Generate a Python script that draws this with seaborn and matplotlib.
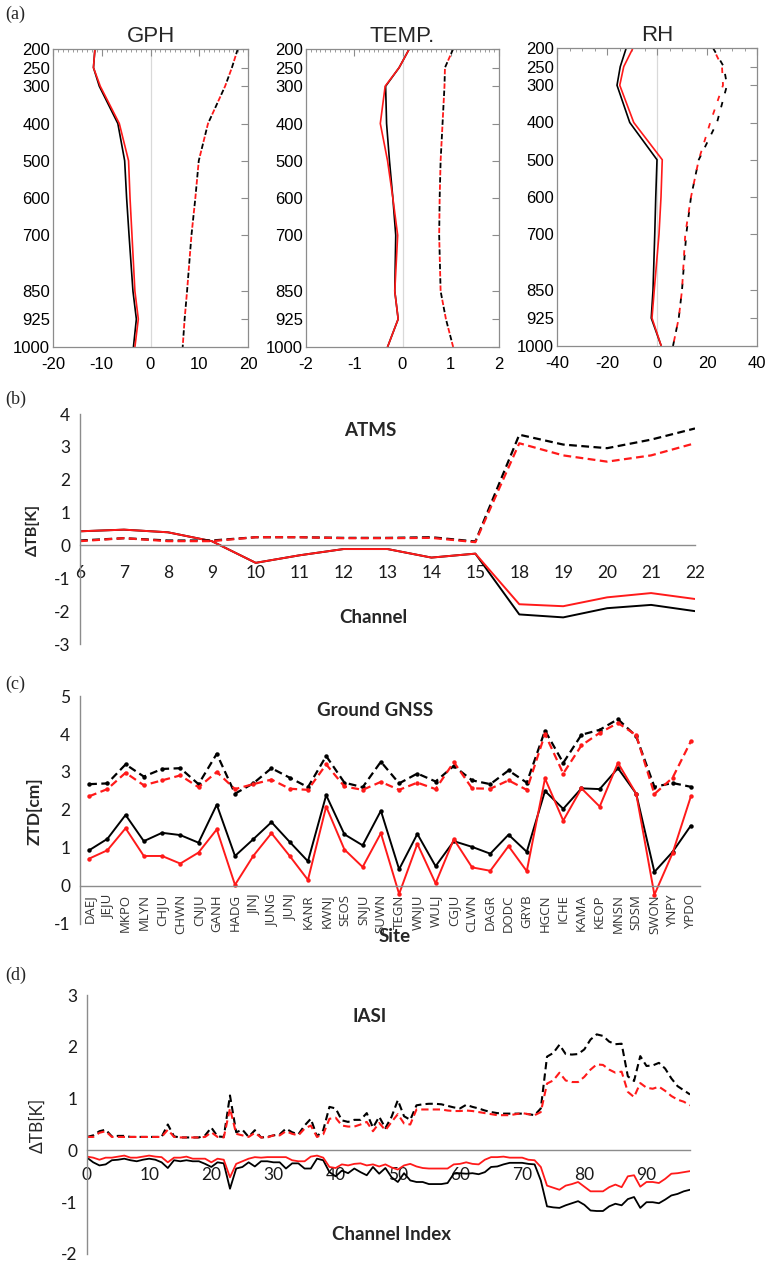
import numpy as np
import matplotlib
matplotlib.use("Agg")
import matplotlib.pyplot as plt
import seaborn as sns
from matplotlib.ticker import MultipleLocator

sns.set_style("white")
plt.rcParams["font.family"] = ["Liberation Sans", "DejaVu Sans"]
plt.rcParams["axes.unicode_minus"] = False

# ---- (a) profiles ----
levels = [200, 250, 300, 400, 500, 600, 700, 850, 925, 1000]

gph_black = [-11.4, -11.7, -10.5, -6.7, -5.3, -4.9, -4.4, -3.6, -2.9, -3.5]
gph_red = [-11.4, -11.7, -10.3, -6.4, -4.5, -4.2, -3.8, -3.2, -2.5, -3.2]
gph_black_d = [17.9, 16.7, 15.3, 11.8, 9.9, 9.2, 8.4, 7.5, 7.0, 6.6]
gph_red_d = [17.9, 16.7, 15.3, 11.8, 9.9, 9.2, 8.4, 7.5, 7.0, 6.6]

temp_black = [0.14, -0.07, -0.35, -0.33, -0.27, -0.20, -0.14, -0.16, -0.09, -0.31]
temp_red = [0.14, -0.07, -0.36, -0.46, -0.31, -0.20, -0.10, -0.16, -0.09, -0.31]
temp_black_d = [1.05, 0.88, 0.87, 0.83, 0.79, 0.77, 0.76, 0.79, 0.90, 1.05]
temp_red_d = [1.05, 0.88, 0.87, 0.83, 0.79, 0.77, 0.76, 0.79, 0.90, 1.05]

rh_black = [-12.3, -14.7, -16.0, -10.9, 0.0, -0.5, -0.9, -1.6, -2.3, 1.7]
rh_red = [-9.6, -13.3, -14.9, -9.3, 2.1, 1.6, 0.8, -1.1, -2.0, 1.7]
rh_black_d = [22.4, 26.7, 28.0, 24.0, 16.7, 13.6, 11.7, 10.0, 8.7, 6.4]
rh_red_d = [22.4, 26.0, 26.4, 21.3, 16.7, 13.6, 11.3, 10.0, 8.7, 6.4]

# ---- (b) ATMS ----
atms_channels = ["6", "7", "8", "9", "10", "11", "12", "13", "14", "15",
                 "18", "19", "20", "21", "22"]
atms_black = [0.43, 0.48, 0.40, 0.13, -0.53, -0.30, -0.11, -0.11, -0.37, -0.25,
              -2.10, -2.19, -1.91, -1.81, -2.00]
atms_red = [0.43, 0.48, 0.40, 0.13, -0.53, -0.30, -0.11, -0.11, -0.37, -0.25,
            -1.79, -1.85, -1.58, -1.45, -1.63]
atms_black_d = [0.15, 0.22, 0.15, 0.15, 0.25, 0.25, 0.23, 0.23, 0.25, 0.12,
                3.37, 3.07, 2.96, 3.22, 3.56]
atms_red_d = [0.13, 0.22, 0.13, 0.13, 0.25, 0.25, 0.22, 0.22, 0.23, 0.10,
              3.11, 2.74, 2.55, 2.74, 3.11]

# ---- (c) ground GNSS ----
sites = ["DAEJ", "JEJU", "MKPO", "MLYN", "CHJU", "CHWN", "CNJU", "GANH", "HADG",
         "JINJ", "JUNG", "JUNJ", "KANR", "KWNJ", "SEOS", "SNJU", "SUWN", "TEGN",
         "WNJU", "WULJ", "CGJU", "CLWN", "DAGR", "DODC", "GRYB", "HGCN", "ICHE",
         "KAMA", "KEOP", "MNSN", "SDSM", "SWON", "YNPY", "YPDO"]
ztd_black_d = [2.68, 2.70, 3.20, 2.88, 3.08, 3.10, 2.68, 3.48, 2.43, 2.70, 3.10,
               2.85, 2.60, 3.42, 2.72, 2.60, 3.27, 2.70, 2.96, 2.75, 3.16, 2.78,
               2.68, 3.04, 2.72, 4.09, 3.24, 3.98, 4.11, 4.39, 3.94, 2.61, 2.71, 2.61]
ztd_red_d = [2.36, 2.55, 2.98, 2.65, 2.78, 2.91, 2.60, 3.00, 2.55, 2.68, 2.80,
             2.56, 2.53, 3.20, 2.62, 2.53, 2.74, 2.53, 2.72, 2.55, 3.26, 2.57,
             2.56, 2.78, 2.53, 4.00, 2.96, 3.70, 4.03, 4.29, 3.97, 2.42, 2.85, 3.81]
ztd_black = [0.94, 1.24, 1.87, 1.18, 1.40, 1.34, 1.14, 2.14, 0.79, 1.23, 1.68,
             1.16, 0.65, 2.39, 1.36, 1.07, 1.98, 0.44, 1.37, 0.52, 1.18, 1.03,
             0.85, 1.35, 0.90, 2.50, 2.03, 2.57, 2.55, 3.10, 2.43, 0.37, 0.90, 1.59]
ztd_red = [0.72, 0.94, 1.52, 0.79, 0.79, 0.59, 0.88, 1.49, 0.03, 0.79, 1.39,
           0.79, 0.16, 2.09, 0.96, 0.50, 1.39, -0.21, 1.11, 0.07, 1.23, 0.49,
           0.40, 1.05, 0.39, 2.83, 1.72, 2.57, 2.09, 3.24, 2.43, -0.23, 0.87, 2.36]

# ---- (d) IASI ----
iasi_black_d = [
    0.26, 0.29, 0.37, 0.40, 0.27, 0.28, 0.28, 0.26, 0.26, 0.26,
    0.26, 0.26, 0.26, 0.50, 0.27, 0.25, 0.25, 0.25, 0.25, 0.29,
    0.44, 0.27, 0.26, 1.06, 0.35, 0.40, 0.26, 0.39, 0.25, 0.26,
    0.29, 0.31, 0.42, 0.35, 0.31, 0.48, 0.61, 0.27, 0.39, 0.84,
    0.81, 0.58, 0.55, 0.59, 0.59, 0.72, 0.44, 0.65, 0.43, 0.65,
    0.97, 0.66, 0.59, 0.87, 0.89, 0.90, 0.90, 0.89, 0.86, 0.83,
    0.81, 0.88, 0.84, 0.81, 0.77, 0.74, 0.72, 0.71, 0.71, 0.71,
    0.71, 0.70, 0.68, 0.81, 1.81, 1.88, 2.04, 1.86, 1.85, 1.86,
    1.95, 2.14, 2.24, 2.21, 2.10, 2.05, 2.06, 1.43, 1.34, 1.82,
    1.63, 1.64, 1.69, 1.58, 1.39, 1.24, 1.16, 1.08]
iasi_red_d = [
    0.26, 0.26, 0.34, 0.37, 0.26, 0.26, 0.26, 0.26, 0.26, 0.26,
    0.26, 0.26, 0.26, 0.40, 0.26, 0.25, 0.25, 0.25, 0.25, 0.26,
    0.35, 0.26, 0.25, 0.81, 0.32, 0.29, 0.26, 0.34, 0.25, 0.25,
    0.29, 0.29, 0.37, 0.32, 0.29, 0.42, 0.48, 0.26, 0.31, 0.61,
    0.63, 0.48, 0.46, 0.46, 0.50, 0.55, 0.37, 0.53, 0.39, 0.55,
    0.70, 0.52, 0.50, 0.79, 0.79, 0.79, 0.79, 0.79, 0.77, 0.76,
    0.76, 0.77, 0.76, 0.74, 0.72, 0.70, 0.68, 0.68, 0.68, 0.70,
    0.72, 0.70, 0.68, 0.74, 1.29, 1.35, 1.50, 1.35, 1.32, 1.32,
    1.42, 1.56, 1.66, 1.65, 1.56, 1.50, 1.52, 1.13, 1.03, 1.30,
    1.21, 1.19, 1.23, 1.15, 1.05, 0.98, 0.94, 0.87]
iasi_black = [
    -0.14, -0.23, -0.29, -0.27, -0.19, -0.18, -0.16, -0.19, -0.21, -0.18,
    -0.16, -0.18, -0.23, -0.34, -0.19, -0.21, -0.19, -0.21, -0.21, -0.26,
    -0.32, -0.23, -0.25, -0.74, -0.35, -0.32, -0.23, -0.31, -0.21, -0.21,
    -0.23, -0.23, -0.35, -0.25, -0.25, -0.35, -0.35, -0.16, -0.19, -0.42,
    -0.50, -0.39, -0.44, -0.35, -0.42, -0.48, -0.32, -0.45, -0.34, -0.52,
    -0.61, -0.44, -0.58, -0.61, -0.61, -0.65, -0.65, -0.65, -0.63, -0.45,
    -0.44, -0.45, -0.44, -0.46, -0.42, -0.32, -0.31, -0.27, -0.24, -0.24,
    -0.24, -0.26, -0.27, -0.58, -1.08, -1.10, -1.11, -1.06, -1.02, -0.98,
    -1.05, -1.16, -1.17, -1.17, -1.08, -1.03, -1.06, -0.94, -0.90, -1.11,
    -1.00, -1.00, -1.02, -0.95, -0.87, -0.84, -0.79, -0.76]
iasi_red = [
    -0.12, -0.14, -0.18, -0.14, -0.14, -0.12, -0.10, -0.14, -0.14, -0.12,
    -0.10, -0.12, -0.13, -0.23, -0.14, -0.14, -0.12, -0.16, -0.16, -0.16,
    -0.23, -0.16, -0.18, -0.52, -0.26, -0.21, -0.16, -0.13, -0.14, -0.13,
    -0.13, -0.13, -0.13, -0.19, -0.21, -0.21, -0.12, -0.10, -0.14, -0.32,
    -0.34, -0.27, -0.29, -0.26, -0.25, -0.29, -0.27, -0.31, -0.27, -0.33,
    -0.37, -0.29, -0.26, -0.31, -0.34, -0.35, -0.35, -0.35, -0.35, -0.27,
    -0.26, -0.23, -0.26, -0.27, -0.18, -0.13, -0.13, -0.12, -0.14, -0.14,
    -0.14, -0.18, -0.19, -0.32, -0.68, -0.72, -0.76, -0.68, -0.65, -0.61,
    -0.70, -0.79, -0.79, -0.79, -0.71, -0.66, -0.71, -0.50, -0.48, -0.70,
    -0.61, -0.61, -0.63, -0.55, -0.45, -0.44, -0.42, -0.40]

W, H = 767, 1264
RED = "#ff1a1a"
AXC = "#8c8c8c"
XL = ["Lato", "DejaVu Sans"]
SERIF = ["Liberation Serif", "DejaVu Serif"]


def rect(l, r, t, b):
    return [l / W, 1 - b / H, (r - l) / W, (b - t) / H]


def px(x, y):
    return x / W, 1 - y / H


fig = plt.figure(figsize=(W / 100, H / 100), dpi=100)


def profile(box, xlim, major, minor, title, black, red, black_d, red_d):
    ax = fig.add_axes(rect(*box))
    ax.axvline(0, color="#d9d9d9", lw=0.9, zorder=0)
    sns.lineplot(x=black, y=levels, orient="y", sort=False, ax=ax,
                 color="black", lw=1.2)
    sns.lineplot(x=red, y=levels, orient="y", sort=False, ax=ax,
                 color=RED, lw=1.2)
    sns.lineplot(x=black_d, y=levels, orient="y", sort=False, ax=ax,
                 color="black", lw=1.3, linestyle=(0, (3, 5)))
    sns.lineplot(x=red_d, y=levels, orient="y", sort=False, ax=ax,
                 color=RED, lw=1.3, linestyle=(4, (3, 5)))
    ax.set_xlim(xlim)
    ax.set_ylim(1000, 200)
    ax.set_yticks(levels)
    ax.xaxis.set_major_locator(MultipleLocator(major))
    ax.xaxis.set_minor_locator(MultipleLocator(minor))
    ax.tick_params(which="both", direction="in", top=True, right=True,
                   color=AXC, labelcolor="black", labelsize=12)
    ax.tick_params(which="major", length=5, width=0.8)
    ax.tick_params(which="minor", length=2.5, width=0.6)
    ax.tick_params(axis="y", pad=2)
    ax.tick_params(axis="x", pad=7)
    for sp in ax.spines.values():
        sp.set_color(AXC)
        sp.set_linewidth(0.9)
    ax.set_xlabel("")
    ax.set_ylabel("")
    ax.set_title(title, fontsize=16, pad=5)


profile((53, 248, 49, 347), (-20, 20), 10, 1, "GPH",
        gph_black, gph_red, gph_black_d, gph_red_d)
profile((306, 499, 49, 347), (-2, 2), 1, 0.1, "TEMP.",
        temp_black, temp_red, temp_black_d, temp_red_d)
profile((557, 757, 48, 346), (-40, 40), 20, 5, "RH",
        rh_black, rh_red, rh_black_d, rh_red_d)


def excel_axes(box, ylim):
    ax = fig.add_axes(rect(*box))
    ax.set_ylim(ylim)
    for s in ["top", "right"]:
        ax.spines[s].set_visible(False)
    ax.spines["bottom"].set_position(("data", 0))
    for s in ["left", "bottom"]:
        ax.spines[s].set_color(AXC)
        ax.spines[s].set_linewidth(1.0)
    ax.set_yticks(np.arange(ylim[0], ylim[1] + 1))
    ax.tick_params(axis="y", direction="out", length=4, color=AXC,
                   labelsize=12.5, labelcolor="#1a1a1a", pad=3)
    for lab in ax.get_yticklabels():
        lab.set_family(XL)
    ax.set_xlabel("")
    ax.set_ylabel("")
    return ax


# ---- (b) ----
ax = excel_axes((80, 695, 414, 644), (-3, 4))
pos = np.arange(len(atms_channels))
sns.lineplot(x=pos, y=atms_black, ax=ax, color="black", lw=1.4)
sns.lineplot(x=pos, y=atms_red, ax=ax, color=RED, lw=1.4)
sns.lineplot(x=pos, y=atms_black_d, ax=ax, color="black", lw=1.6,
             linestyle=(0, (3.5, 2)))
sns.lineplot(x=pos, y=atms_red_d, ax=ax, color=RED, lw=1.6,
             linestyle=(0, (3.5, 2)))
ax.set_xlim(0, len(atms_channels) - 1)
ax.set_xticks(pos)
ax.set_xticklabels(atms_channels, family=XL)
ax.tick_params(axis="x", direction="in", length=5, color=AXC,
               labelsize=12.5, labelcolor="#1a1a1a", pad=14)
fig.text(*px(370, 431), "ATMS", family=XL, fontsize=13.5, weight="bold",
         ha="center", va="center")
fig.text(*px(373, 618), "Channel", family=XL, fontsize=13.5, weight="bold",
         ha="center", va="center")
fig.text(*px(33, 530), "ΔTB[K]", family=XL, fontsize=11.5, weight="bold",
         ha="center", va="center", rotation=90)

# ---- (c) ----
ax = excel_axes((80, 700, 696, 924), (-1, 5))
pos = np.arange(len(sites))
mk = dict(marker="o", markersize=3.2, markeredgewidth=0)
sns.lineplot(x=pos, y=ztd_black, ax=ax, color="black", lw=1.4, **mk)
sns.lineplot(x=pos, y=ztd_red, ax=ax, color=RED, lw=1.4, **mk)
sns.lineplot(x=pos, y=ztd_black_d, ax=ax, color="black", lw=1.6,
             linestyle=(0, (3.5, 2)), **mk)
sns.lineplot(x=pos, y=ztd_red_d, ax=ax, color=RED, lw=1.6,
             linestyle=(0, (3.5, 2)), **mk)
ax.set_xlim(-0.5, len(sites) - 0.5)
ax.set_xticks(pos)
ax.set_xticklabels(sites, rotation=90, family=["Open Sans", "DejaVu Sans"])
ax.set_xticks(np.arange(-0.5, len(sites), 1), minor=True)
ax.tick_params(axis="x", which="major", length=0, labelsize=9.5,
               labelcolor="#333333", pad=6)
ax.tick_params(axis="x", which="minor", direction="out", length=5, color=AXC)
fig.text(*px(375, 711), "Ground GNSS", family=XL, fontsize=13.5,
         weight="bold", ha="center", va="center")
fig.text(*px(395, 937), "Site", family=XL, fontsize=13.5, weight="bold",
         ha="center", va="center")
fig.text(*px(35, 811), "ZTD[cm]", family=XL, fontsize=12.5, weight="bold",
         ha="center", va="center", rotation=90)

# ---- (d) ----
ax = excel_axes((87, 690, 995, 1254), (-2, 3))
chan = np.arange(len(iasi_black))
sns.lineplot(x=chan, y=iasi_black, ax=ax, color="black", lw=1.3)
sns.lineplot(x=chan, y=iasi_red, ax=ax, color=RED, lw=1.3)
sns.lineplot(x=chan, y=iasi_black_d, ax=ax, color="black", lw=1.5,
             linestyle=(0, (3.5, 2)))
sns.lineplot(x=chan, y=iasi_red_d, ax=ax, color=RED, lw=1.5,
             linestyle=(0, (3.5, 2)))
ax.set_xlim(0, len(iasi_black) - 1)
ax.xaxis.set_major_locator(MultipleLocator(10))
ax.xaxis.set_minor_locator(MultipleLocator(2))
ax.tick_params(axis="x", which="both", direction="in", length=5, color=AXC,
               labelsize=12.5, labelcolor="#1a1a1a", pad=12)
for lab in ax.get_xticklabels():
    lab.set_family(XL)
fig.text(*px(370, 1016), "IASI", family=XL, fontsize=13.5, weight="bold",
         ha="center", va="center")
fig.text(*px(392, 1235), "Channel Index", family=XL, fontsize=13.5,
         weight="bold", ha="center", va="center")
fig.text(*px(37, 1125), "ΔTB[K]", family=XL, fontsize=12.5,
         ha="center", va="center", rotation=90)

# panel letters
for lab, y in [("(a)", 14), ("(b)", 399), ("(c)", 684), ("(d)", 975)]:
    fig.text(*px(5, y), lab, family=SERIF, fontsize=13, ha="left", va="center")

fig.savefig("out.png", dpi=100)
